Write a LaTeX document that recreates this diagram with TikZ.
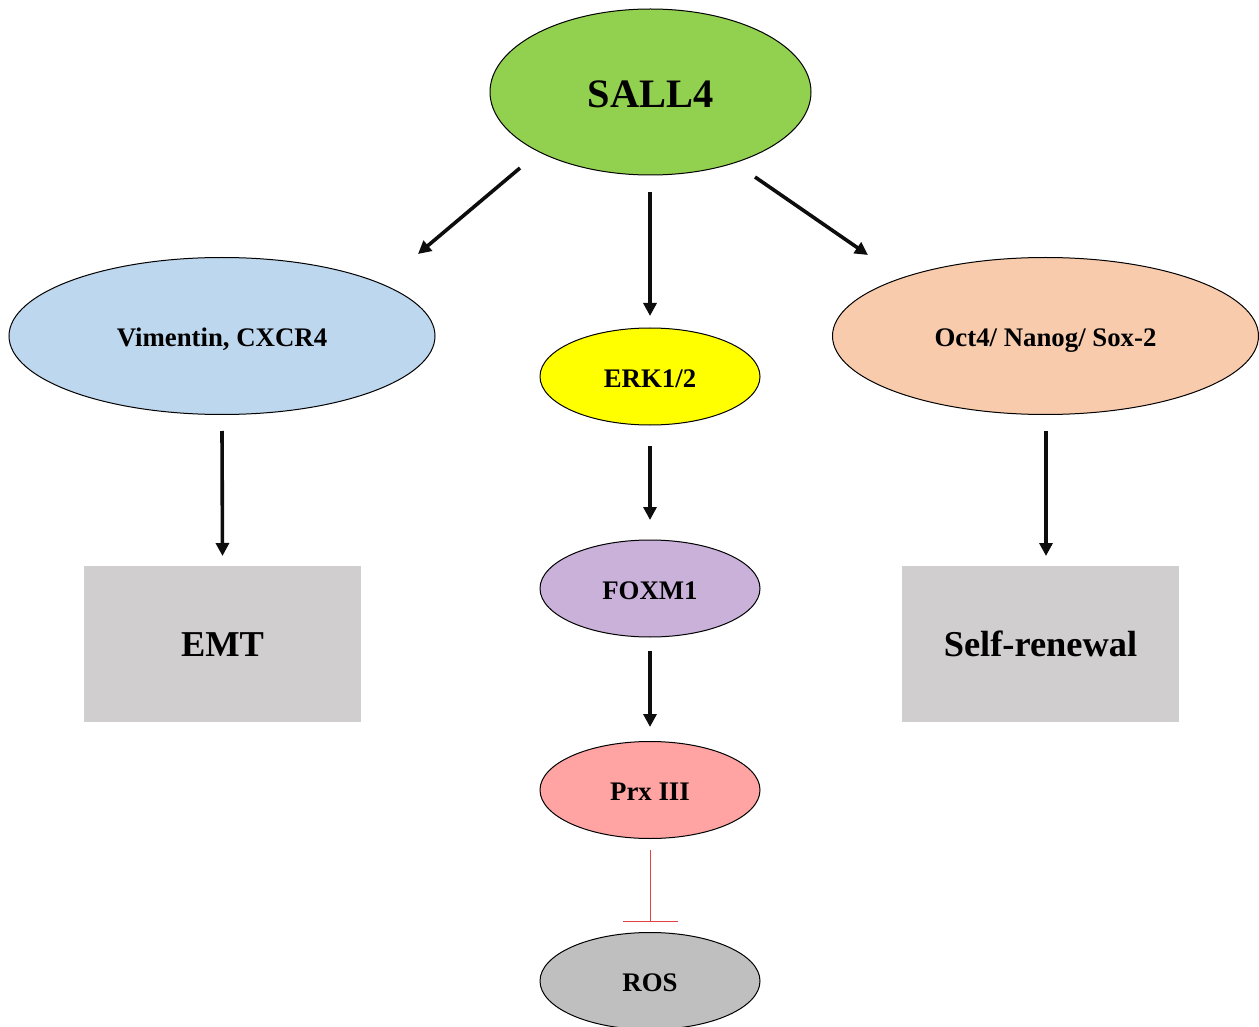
\documentclass[tikz,border=0pt]{standalone}
\usepackage{fontspec}
\setmainfont{Liberation Serif}
\usetikzlibrary{shapes.geometric,arrows.meta}
\definecolor{sallgreen}{HTML}{92D050}
\definecolor{vimblue}{HTML}{BDD7EE}
\definecolor{octpeach}{HTML}{F8CBAD}
\definecolor{erkyellow}{HTML}{FFFF00}
\definecolor{foxlilac}{HTML}{C9B1DA}
\definecolor{prxpink}{HTML}{FFA3A3}
\definecolor{rosgrey}{HTML}{BFBFBF}
\definecolor{boxgrey}{HTML}{D0CECE}
\definecolor{inhibred}{HTML}{E0403F}
\tikzset{
	oval/.style={ellipse, draw, line width=.5pt, inner sep=0pt,
		font=\bfseries\fontsize{13.4}{15}\selectfont, text height=10.6pt, text depth=0pt},
	small oval/.style={oval, minimum width=110pt, minimum height=48.5pt},
	big oval/.style={oval, minimum width=213pt, minimum height=78.5pt},
	greybox/.style={rectangle, fill=boxgrey, minimum width=138.5pt, minimum height=78pt,
		font=\bfseries\fontsize{18.2}{22}\selectfont, text height=12.4pt, text depth=0pt},
	arr/.style={-{Triangle[length=6.5pt,width=6.5pt]}, line width=1.8pt, black!95},
	inhib/.style={-{Bar[width=27.5pt]}, line width=.5pt, inhibred}
}
\begin{document}
\begin{tikzpicture}[x=0.5pt,y=-0.5pt]
		\useasboundingbox (0,0) rectangle (1259,1027);
		% top
			\node[oval, fill=sallgreen, minimum width=160.5pt, minimum height=83pt,
				font=\bfseries\fontsize{20.2}{24}\selectfont, text height=15.3pt] (sall) at (650.5,92) {SALL4};
		% branches
			\node[big oval, fill=vimblue]  (vim) at (222,336)    {Vimentin, CXCR4};
			\node[big oval, fill=octpeach] (oct) at (1045.5,336) {Oct4/ Nanog/ Sox-2};
			\node[greybox] (emt)  at (222.5,644)  {EMT};
			\node[greybox] (self) at (1040.5,644) {Self-renewal};
		% middle column
			\node[small oval, fill=erkyellow] (erk) at (650,376.5) {ERK1/2};
			\node[small oval, fill=foxlilac]  (fox) at (650,588.5) {FOXM1};
			\node[small oval, fill=prxpink]   (prx) at (650,790)   {Prx III};
			\node[small oval, fill=rosgrey]   (ros) at (650,981)   {ROS};
		% arrows out of SALL4
			\draw[arr] ([shift={(-130.5,76)}]sall.center) -- ([shift={(196,-82)}]vim.center);
			\draw[arr] ([shift={(-0.5,100)}]sall.center)  -- ([shift={(0,-60.5)}]erk.center);
			\draw[arr] ([shift={(104.5,85)}]sall.center)  -- ([shift={(-177.5,-81)}]oct.center);
		% downward arrows
			\foreach \a/\b/\s/\t in {vim/emt/95/88, erk/fox/69.5/68.5, fox/prx/62.5/63}{
				\draw[arr] ([yshift=-\s*0.5pt]\a.center) -- ([yshift=\t*0.5pt]\b.center);
				}
			\draw[arr] ([shift={(0.5,95)}]oct.center) -- ([shift={(5.5,-88)}]self.center);
		% inhibition
			\draw[inhib] ([yshift=-30pt]prx.center) -- ([yshift=29.5pt]ros.center);
	\end{tikzpicture}
\end{document}
